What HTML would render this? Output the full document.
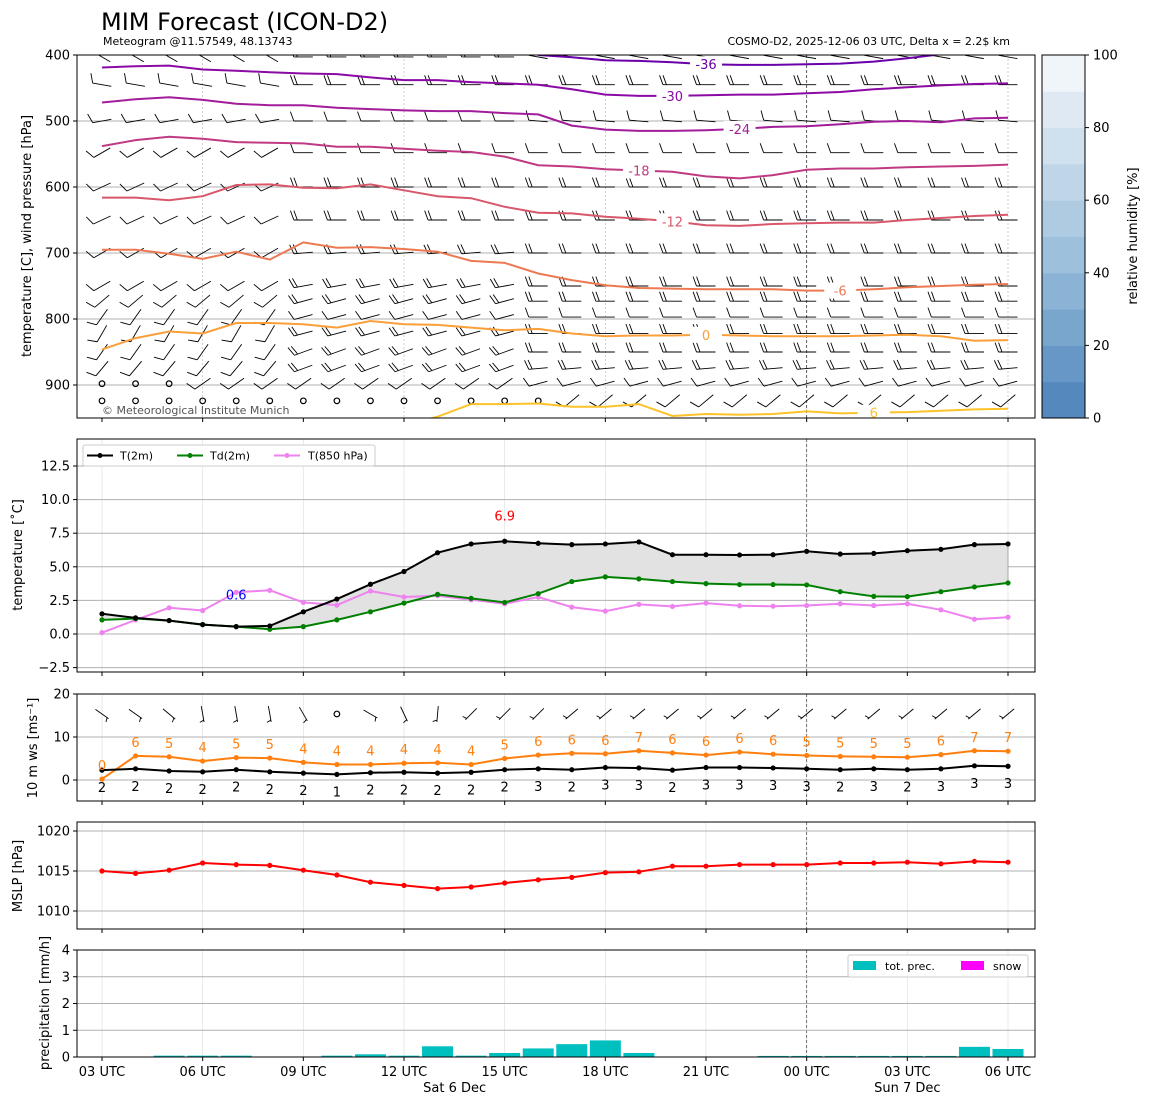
<!DOCTYPE html>
<html><head><meta charset="utf-8"><title>MIM Forecast</title>
<style>
html,body{margin:0;padding:0;background:#fff;}
svg{display:block;font-family:"DejaVu Sans","Liberation Sans",sans-serif;}
</style></head>
<body>
<svg id="chart" xmlns="http://www.w3.org/2000/svg" width="1150" height="1105" viewBox="0 0 1150 1105"></svg>
<script>
// ---------- data ----------
const hours = ["03","04","05","06","07","08","09","10","11","12","13","14","15","16","17","18","19","20","21","22","23","00","01","02","03","04","05","06"];
const tickIdx = [0,3,6,9,12,15,18,21,24,27];
const tickLabels = ["03 UTC","06 UTC","09 UTC","12 UTC","15 UTC","18 UTC","21 UTC","00 UTC","03 UTC","06 UTC"];
const isoLevels = [-36,-30,-24,-18,-12,-6,0,6];
const isoM36 = [null,null,null,null,null,null,null,null,null,null,null,null,null,400,403.5,408,409,411,414,415,415,414,413,410,405,399,null,null];
const isoM30 = [419,417,416,422,424,426,428,429,434,438,438,441,443,445,452,460,462,462,461,460,460,458,456,452,449,446,444,443];
const isoM24 = [472,467,464,468,474,476,476,480,482,484,485,485,488,490,507,513,515,515,514,512,509,508,505,501,500,502,496,495];
const isoM18 = [538,529,524,527,532,533,534,539,539,542,545,547,554,567,569,573,575,577,584,587,582,574,572,572,570,569,568,566];
const isoM12 = [616,616,620,614,597,596,601,602,596,605,614,617,630,639,640,645,648,652,658,659,656,655,654,654,650,647,644,642];
const isoM6 = [695,695,701,709,698,710,684,692,691,694,698,712,715,731,741,749,753,754,755,755,755,757,757,755,752,750,748,747];
const iso0 = [846,829,819,822,806,806,808,813,803,808,809,813,817,815,822,826,825,825,824,825,826,826,826,825,824,826,833,832];
const isoP6 = [null,null,null,null,null,null,null,null,null,960,948,929,929,928,933,933,929,947,944,945,944,940,943,942,941,939,937,936];
const isoLabelIdx = [18,17,19,16,17,22,18,23];
const barbP = [403,445,500,548,600,650,700,750,773,797,822,850,875,898,924];
const barbDirL = [150,170,190,210,205,205,210,210,220,235,240,235,230,215,220];
const barbDirM = [180,180,180,180,180,180,185,190,195,195,195,200,200,215,220];
const barbDirR = [170,180,175,180,180,180,180,180,180,180,180,180,185,195,220];
const barbFeat = [2,2,1,1,2,2,2,2,2,1,2,2,2,1,1];
const barbCalm = [0,0,0,0,0,0,0,0,0,0,0,0,0,3,14];
const t2m = [1.5,1.2,1.0,0.7,0.55,0.6,1.65,2.6,3.7,4.65,6.05,6.7,6.9,6.75,6.65,6.7,6.85,5.9,5.9,5.88,5.9,6.15,5.95,6.0,6.2,6.3,6.65,6.7];
const td2m = [1.05,1.15,1.0,0.7,0.55,0.35,0.55,1.05,1.65,2.3,2.95,2.65,2.35,3.0,3.9,4.25,4.1,3.9,3.75,3.68,3.68,3.65,3.15,2.8,2.78,3.15,3.5,3.8];
const t850 = [0.1,1.05,1.95,1.75,3.1,3.25,2.35,2.15,3.2,2.75,2.85,2.55,2.25,2.75,2.0,1.7,2.2,2.05,2.3,2.1,2.07,2.12,2.25,2.12,2.25,1.8,1.1,1.25];
const gust = [0.2,5.6,5.4,4.4,5.2,5.1,4.1,3.6,3.6,3.9,4.0,3.6,5.0,5.8,6.2,6.1,6.8,6.3,5.8,6.5,6.0,5.7,5.5,5.4,5.3,5.9,6.8,6.7];
const gustLabels = ["0","6","5","4","5","5","4","4","4","4","4","4","5","6","6","6","7","6","6","6","6","5","5","5","5","6","7","7"];
const ws = [2.3,2.6,2.1,1.9,2.4,1.9,1.6,1.3,1.7,1.8,1.6,1.8,2.4,2.6,2.4,2.9,2.8,2.3,2.9,2.9,2.8,2.6,2.4,2.6,2.4,2.6,3.3,3.2];
const wsLabels = ["2","2","2","2","2","2","2","1","2","2","2","2","2","3","2","3","3","2","3","3","3","3","2","3","2","3","3","3"];
const wdir10 = [325,325,320,280,280,280,300,null,330,295,265,225,225,225,220,220,220,220,220,220,220,220,220,220,220,220,220,220];
const mslp = [1015.0,1014.7,1015.1,1016.0,1015.8,1015.7,1015.1,1014.5,1013.6,1013.2,1012.8,1013.0,1013.5,1013.9,1014.2,1014.8,1014.9,1015.6,1015.6,1015.8,1015.8,1015.8,1016.0,1016.0,1016.1,1015.9,1016.2,1016.1];
const precip = [0,0,0.05,0.05,0.05,0,0,0.05,0.1,0.05,0.4,0.05,0.15,0.32,0.48,0.62,0.15,0,0,0,0.04,0.04,0.04,0.04,0.04,0.04,0.38,0.3];
const rhColors = ["#5589bd","#6797c6","#79a6cd","#8bb3d5","#9dc0dc","#aecbe2","#bed6e8","#cfe0ee","#dfe9f4","#f0f5fa"];

// ---------- helpers ----------
const NS = "http://www.w3.org/2000/svg";
const svg = document.getElementById("chart");
function mk(tag, attrs, parent){
  const e = document.createElementNS(NS, tag);
  for (const k in attrs) e.setAttribute(k, attrs[k]);
  (parent || svg).appendChild(e);
  return e;
}
function txt(x,y,s,attrs,parent){
  const e = mk("text", Object.assign({x:x,y:y,"font-size":13,fill:"#000"},attrs||{}), parent);
  e.textContent = s;
  return e;
}
const X0 = 102, DX = (1008-102)/27, PL = 77, PR = 1035;
function xs(i){ return X0 + i*DX; }
function yP(p){ return 55 + (p-400)*0.66; }
function yT(t){ return 634 - t*(33.6/2.5); }
function yW(v){ return 780 - v*4.3; }
function yM(v){ return 871 - (v-1015)*8; }
function yR(v){ return 1057 - v*26.75; }

function barb(g, x, y, a, nFull, nHalf, L, F){
  const r = a*Math.PI/180;
  const ux = Math.cos(r), uy = -Math.sin(r);
  const x1 = x - ux*L/2, y1 = y - uy*L/2, x2 = x + ux*L/2, y2 = y + uy*L/2;
  mk("line",{x1:x1,y1:y1,x2:x2,y2:y2,stroke:"#000","stroke-width":0.9},g);
  const fr = (a-90+20)*Math.PI/180;
  const fx = Math.cos(fr), fy = -Math.sin(fr);
  let k = 0;
  for (let n=0;n<nFull;n++,k++){
    const bx = x2 - ux*k*3.5, by = y2 - uy*k*3.5;
    mk("line",{x1:bx,y1:by,x2:bx+fx*F,y2:by+fy*F,stroke:"#000","stroke-width":0.9},g);
  }
  for (let n=0;n<nHalf;n++,k++){
    const bx = x2 - ux*(k+0.5)*3.5, by = y2 - uy*(k+0.5)*3.5;
    mk("line",{x1:bx,y1:by,x2:bx+fx*F/2,y2:by+fy*F/2,stroke:"#000","stroke-width":0.9},g);
  }
}
function polyPath(vals, fx, fy){
  let d = "", pen = false;
  vals.forEach((v,i)=>{
    if (v===null){ pen=false; return; }
    d += (pen?"L":"M") + fx(i).toFixed(1) + "," + fy(v).toFixed(1);
    pen = true;
  });
  return d;
}
function frame(y0,y1,name){
  const r = mk("rect",{x:PL,y:y0,width:PR-PL,height:y1-y0,fill:"none",stroke:"#000","stroke-width":1});
  
  
}
function xTicks(y1){
  tickIdx.forEach(i=>{ mk("line",{x1:xs(i),y1:y1,x2:xs(i),y2:y1+4,stroke:"#000"}); });
}
function vgrid(y0,y1,g){
  tickIdx.forEach(i=>{ mk("line",{x1:xs(i),y1:y0,x2:xs(i),y2:y1,stroke:"#e4e4e4","stroke-width":0.8},g); });
  mk("line",{x1:xs(21),y1:y0,x2:xs(21),y2:y1,stroke:"#555","stroke-width":0.8,"stroke-dasharray":"3,2"},g);
}
function hgridTicks(vals, fy, labels, g){
  vals.forEach((v,k)=>{
    const y = fy(v);
    mk("line",{x1:PL,y1:y,x2:PR,y2:y,stroke:"#b0b0b0","stroke-width":1},g);
    mk("line",{x1:PL-4,y1:y,x2:PL,y2:y,stroke:"#000"});
    const t = txt(PL-7,y+4.5,labels[k],{"text-anchor":"end"});
    
    
  });
}
function ylabel(x,y,s,name){
  const t = txt(x,y,s,{"text-anchor":"middle",transform:"rotate(-90 "+x+" "+y+")"});
  
  
}

// ---------- header ----------
const title = txt(101,30,"MIM Forecast (ICON-D2)",{"font-size":24});


const sub = txt(103,45,"Meteogram @11.57549, 48.13743",{"font-size":11});


const sub2 = txt(1010,45,"COSMO-D2, 2025-12-06 03 UTC, Delta x = 2.2$ km",{"font-size":11,"text-anchor":"end"});



// ---------- panel 1 ----------
const cp = mk("clipPath",{id:"c1"});
mk("rect",{x:PL,y:55,width:PR-PL,height:363},cp);
const g1 = mk("g",{"clip-path":"url(#c1)"});


[500,600,700,800,900].forEach(p=>{ mk("line",{x1:PL,y1:yP(p),x2:PR,y2:yP(p),stroke:"#b0b0b0"},g1); });
[3,9,15,27].forEach(i=>{ mk("line",{x1:xs(i),y1:55,x2:xs(i),y2:418,stroke:"#bbb","stroke-width":0.7,"stroke-dasharray":"2,2"},g1); });
mk("line",{x1:xs(21),y1:55,x2:xs(21),y2:418,stroke:"#333","stroke-width":0.8,"stroke-dasharray":"3,2"},g1);
barbP.forEach((p,r)=>{
  for (let i=0;i<28;i++){
    const y = yP(p), x = xs(i);
    if (i < barbCalm[r]){
      const c = mk("circle",{cx:x,cy:y,r:2.8,fill:"none",stroke:"#000","stroke-width":1.2},g1);
      
      
      continue;
    }
    const a = i<6 ? barbDirL[r] : (i<13 ? barbDirM[r] : barbDirR[r]);
    const f = i<6 ? 1 : barbFeat[r];
    const bg = mk("g",{},g1);
    
    
    barb(bg, x, y, a, f, 0, 19, 10);
  }
});
const isoData = [isoM36,isoM30,isoM24,isoM18,isoM12,isoM6,iso0,isoP6];
const isoColors = ["#6a00a8","#8b0aa5","#a21d9a","#c03a83","#d8576b","#ed7953","#fb9f3a","#fdc227"];
isoData.forEach((arr,k)=>{
  const p = mk("path",{d:polyPath(arr,xs,yP),fill:"none",stroke:isoColors[k],"stroke-width":2},g1);
  
  
  const li = isoLabelIdx[k], v = arr[li];
  if (v!==null){
    const lx = xs(li), ly = yP(v);
    mk("rect",{x:lx-16,y:ly-8,width:32,height:16,fill:"#fff"},g1);
    const t = txt(lx,ly+5,String(isoLevels[k]),{"text-anchor":"middle",fill:isoColors[k]},g1);
    
    
  }
});
const cr = txt(102,414,"© Meteorological Institute Munich",{"font-size":11,fill:"#555"});


frame(55,418,'upper-air-frame');
[400,500,600,700,800,900].forEach(p=>{
  const y = yP(p);
  mk("line",{x1:PL-4,y1:y,x2:PL,y2:y,stroke:"#000"});
  const t = txt(PL-7,y+4.5,String(p),{"text-anchor":"end"});
  
  
});
xTicks(418);
ylabel(31,236,"temperature [C], wind pressure [hPa]",'upper-air-y-title');
const cbTop = 55, cbBot = 418, cbH = (cbBot-cbTop)/10;
rhColors.forEach((c,k)=>{
  const r = mk("rect",{x:1042,y:cbBot-(k+1)*cbH,width:43,height:cbH+0.5,fill:c});
  
  
});
mk("rect",{x:1042,y:cbTop,width:43,height:cbBot-cbTop,fill:"none",stroke:"#000"});
[0,20,40,60,80,100].forEach(v=>{
  const y = cbBot - v/100*(cbBot-cbTop);
  mk("line",{x1:1085,y1:y,x2:1089,y2:y,stroke:"#000"});
  const t = txt(1093,y+4.5,String(v));
  
  
});
ylabel(1137,236,"relative humidity [%]",'colorbar-title');

// ---------- panel 2 ----------
const g2 = mk("g",{});


vgrid(439,672,g2);
hgridTicks([-2.5,0,2.5,5,7.5,10,12.5], yT, ["−2.5","0.0","2.5","5.0","7.5","10.0","12.5"], g2);
let fd = "M"+xs(0)+","+yT(t2m[0]);
t2m.forEach((v,i)=>{ fd += "L"+xs(i).toFixed(1)+","+yT(v).toFixed(1); });
for (let i=27;i>=0;i--) fd += "L"+xs(i).toFixed(1)+","+yT(td2m[i]).toFixed(1);
const fill = mk("path",{d:fd+"Z",fill:"#e2e2e2",stroke:"#999","stroke-width":0.8},g2);


function series(g, vals, fy, color, name, r){
  const p = mk("path",{d:polyPath(vals,xs,fy),fill:"none",stroke:color,"stroke-width":2},g);
  
  
  vals.forEach((v,i)=>{
    const c = mk("circle",{cx:xs(i),cy:fy(v),r:r||2.6,fill:color},g);
    
    
  });
}
series(g2, t850, yT, "#ee82ee", "t850");
series(g2, td2m, yT, "#008000", "td2m");
series(g2, t2m, yT, "#000", "t2m");
let imax = 0; t2m.forEach((v,i)=>{ if (v>t2m[imax]) imax=i; });
let imin = 0; t2m.forEach((v,i)=>{ if (v<t2m[imin]) imin=i; });
const tmx = txt(xs(imax), yT(t2m[imax])-21, t2m[imax].toFixed(1), {"text-anchor":"middle",fill:"#f00"});


const tmn = txt(xs(imin), yT(t2m[imin])-27, t2m[imin].toFixed(1), {"text-anchor":"middle",fill:"#00f"});


frame(439,672,'temperature-frame');
xTicks(672);
ylabel(22,555,"temperature [˚C]",'temperature-y-title');
const lg = mk("g",{});


mk("rect",{x:83,y:445,width:292,height:21,rx:2,fill:"#fff",stroke:"#ccc"},lg);
[["T(2m)","#000",87,120],["Td(2m)","#008000",177,210],["T(850 hPa)","#ee82ee",274,308]].forEach(e=>{
  mk("line",{x1:e[2],y1:455.5,x2:e[2]+26,y2:455.5,stroke:e[1],"stroke-width":2},lg);
  mk("circle",{cx:e[2]+13,cy:455.5,r:2.5,fill:e[1]},lg);
  const t = txt(e[3],459.5,e[0],{"font-size":11},lg);
  
  
});

// ---------- panel 3 ----------
const g3 = mk("g",{});


vgrid(694,801,g3);
hgridTicks([0,10,20], yW, ["0","10","20"], g3);
wdir10.forEach((a,i)=>{
  if (a===null){
    const c = mk("circle",{cx:xs(i),cy:714,r:2.8,fill:"none",stroke:"#000","stroke-width":1.2},g3);
    
    
    return;
  }
  const bg = mk("g",{},g3);
  
  
  barb(bg, xs(i), 714, a, 0, 1, 16, 9);
});
series(g3, gust, yW, "#ff7f0e", "gust");
series(g3, ws, yW, "#000", "wind-speed");
gust.forEach((v,i)=>{
  const t = txt(xs(i), yW(v)-9, gustLabels[i], {"text-anchor":"middle",fill:"#ff7f0e"}, g3);
  
  
});
ws.forEach((v,i)=>{
  const t = txt(xs(i), yW(v)+22, wsLabels[i], {"text-anchor":"middle"}, g3);
  
  
});
frame(694,801,'wind-frame');
xTicks(801);
ylabel(37,748,"10 m ws [ms⁻¹]",'wind-y-title');

// ---------- panel 4 ----------
const g4 = mk("g",{});


vgrid(822,929,g4);
hgridTicks([1010,1015,1020], yM, ["1010","1015","1020"], g4);
series(g4, mslp, yM, "#ff0000", "mslp");
frame(822,929,'mslp-frame');
xTicks(929);
ylabel(22,876,"MSLP [hPa]",'mslp-y-title');

// ---------- panel 5 ----------
const g5 = mk("g",{});


vgrid(950,1057,g5);
hgridTicks([0,1,2,3,4], yR, ["0","1","2","3","4"], g5);
precip.forEach((v,i)=>{
  if (v<=0) return;
  const b = mk("rect",{x:xs(i)-15.5,y:yR(v),width:31,height:1057-yR(v),fill:"#00bfbf"},g5);
  
  
});
frame(950,1057,'precip-frame');
xTicks(1057);
ylabel(49,1003,"precipitation [mm/h]",'precip-y-title');
const lg5 = mk("g",{});


mk("rect",{x:848,y:955,width:180,height:22,rx:2,fill:"#fff",stroke:"#ccc"},lg5);
mk("rect",{x:853,y:961,width:23,height:9,fill:"#00bfbf"},lg5);
const l1 = txt(885,970,"tot. prec.",{"font-size":11},lg5);


mk("rect",{x:961,y:961,width:23,height:9,fill:"#ff00ff"},lg5);
const l2 = txt(993,970,"snow",{"font-size":11},lg5);



tickIdx.forEach((i,k)=>{
  const t = txt(xs(i),1076,tickLabels[k],{"text-anchor":"middle"});
  
  
});
const d1 = txt(xs(12)-50,1092,"Sat 6 Dec",{"text-anchor":"middle"});


const d2 = txt(xs(24),1092,"Sun 7 Dec",{"text-anchor":"middle"});


</script>
</body></html>
